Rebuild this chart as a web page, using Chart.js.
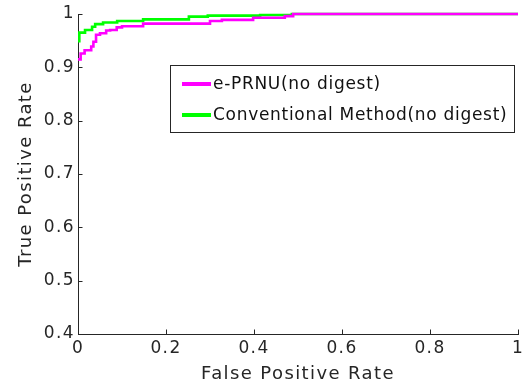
<!DOCTYPE html>
<html>
<head>
<meta charset="utf-8">
<script src="https://cdn.jsdelivr.net/npm/chart.js@4/dist/chart.umd.min.js"></script>
<style>
html,body{margin:0;padding:0;background:#fff;}
#wrap{width:531px;height:385px;position:relative;}
</style>
</head>
<body>
<div id="wrap"><canvas id="c" width="531" height="385"></canvas></div>
<script>
// ---- data ----
const seriesNames = ["e-PRNU(no digest)", "Conventional Method(no digest)"];
const seriesColors = ["#ff00ff", "#00ff00"];
const prnuFPR = [0, 0.006, 0.015, 0.030, 0.035, 0.041, 0.050, 0.064, 0.073, 0.088, 0.100, 0.148, 0.300, 0.327, 0.398, 0.470, 0.489, 1.0];
const prnuTPR = [0.915, 0.926, 0.932, 0.939, 0.948, 0.961, 0.964, 0.969, 0.970, 0.975, 0.977, 0.982, 0.987, 0.989, 0.993, 0.996, 1.0, 1.0];
const convFPR = [0, 0.003, 0.016, 0.032, 0.039, 0.057, 0.089, 0.148, 0.252, 0.295, 0.414, 0.486, 1.0];
const convTPR = [0.949, 0.965, 0.970, 0.976, 0.981, 0.984, 0.987, 0.990, 0.995, 0.997, 0.998, 1.0, 1.0];
const xTicks = [0, 0.2, 0.4, 0.6, 0.8, 1];
const yTicks = [0.4, 0.5, 0.6, 0.7, 0.8, 0.9, 1];
const xTitle = "False Positive Rate";
const yTitle = "True Positive Rate";

const TXT = "#262626";
const FONT = "'DejaVu Sans', sans-serif";

function pts(xs, ys){ return xs.map((x,i)=>({x:x, y:ys[i]})); }

const wideText = {
  id: 'wideText',
  beforeInit(chart){ chart.ctx.letterSpacing = '1.4px'; },
  beforeUpdate(chart){ chart.ctx.letterSpacing = '1.4px'; },
  beforeDraw(chart){ chart.ctx.letterSpacing = '1.4px'; }
};

const inwardTicks = {
  id: 'inwardTicks',
  afterDatasetsDraw(chart){
    const ctx = chart.ctx, xs = chart.scales.x, ys = chart.scales.y;
    ctx.save();
    ctx.strokeStyle = TXT; ctx.lineWidth = 1;
    ctx.beginPath();
    xTicks.forEach(v=>{ const px = Math.round(xs.getPixelForValue(v))+0.5; ctx.moveTo(px, ys.bottom); ctx.lineTo(px, ys.bottom-4.5); });
    yTicks.forEach(v=>{ const py = Math.round(ys.getPixelForValue(v))+0.5; ctx.moveTo(xs.left, py); ctx.lineTo(xs.left+4.5, py); });
    ctx.stroke();
    ctx.restore();
  }
};

const boxLegend = {
  id: 'boxLegend',
  afterDraw(chart){
    const ctx = chart.ctx;
    const L = 170.5, T = 65.5, W = 344, H = 67;
    ctx.save();
    ctx.fillStyle = '#fff';
    ctx.fillRect(L, T, W, H);
    ctx.strokeStyle = TXT; ctx.lineWidth = 1;
    ctx.strokeRect(L, T, W, H);
    ctx.font = '17px ' + FONT;
    ctx.letterSpacing = '0.7px';
    ctx.textBaseline = 'middle';
    chart.data.datasets.forEach((ds, i)=>{
      const y = T + 18.5 + i*31;
      ctx.strokeStyle = ds.borderColor; ctx.lineWidth = 4;
      ctx.beginPath(); ctx.moveTo(182, y); ctx.lineTo(211, y); ctx.stroke();
      ctx.fillStyle = '#111';
      ctx.fillText(ds.label, 213, y+1);
    });
    ctx.restore();
  }
};

new Chart(document.getElementById('c'), {
  type: 'scatter',
  data: {
    datasets: [
      { label: seriesNames[0], data: pts(prnuFPR, prnuTPR), borderColor: seriesColors[0], backgroundColor: seriesColors[0], showLine: true, stepped: 'before', borderWidth: 2.6, pointRadius: 0, clip: false },
      { label: seriesNames[1], data: pts(convFPR, convTPR), borderColor: seriesColors[1], backgroundColor: seriesColors[1], showLine: true, stepped: 'before', borderWidth: 2.6, pointRadius: 0, clip: false }
    ]
  },
  options: {
    responsive: false,
    animation: false,
    devicePixelRatio: 1,
    layout: { autoPadding: false, padding: { left: 0, top: 14, right: 13, bottom: 0 } },
    plugins: { legend: { display: false }, tooltip: { enabled: false } },
    scales: {
      x: {
        type: 'linear', min: 0, max: 1,
        afterBuildTicks(s){ s.ticks = xTicks.map(v=>({value:v})); },
        afterFit(s){ s.height = 51; },
        ticks: { color: TXT, font: { family: FONT, size: 17 }, padding: 4, maxRotation: 0, callback: v => String(v) },
        grid: { drawOnChartArea: false, drawTicks: false },
        border: { display: true, color: TXT, width: 1 },
        title: { display: true, text: xTitle, color: TXT, font: { family: FONT, size: 18 }, padding: { top: 0, bottom: 0 } }
      },
      y: {
        type: 'linear', min: 0.4, max: 1,
        afterBuildTicks(s){ s.ticks = yTicks.map(v=>({value:v})); },
        afterFit(s){ s.width = 78; },
        ticks: { color: TXT, font: { family: FONT, size: 17 }, padding: 3, callback: v => String(v) },
        grid: { drawOnChartArea: false, drawTicks: false },
        border: { display: true, color: TXT, width: 1 },
        title: { display: true, text: yTitle, color: TXT, font: { family: FONT, size: 18 }, padding: { top: 16, bottom: 0 } }
      }
    }
  },
  plugins: [wideText, inwardTicks, boxLegend]
});
</script>
</body>
</html>
